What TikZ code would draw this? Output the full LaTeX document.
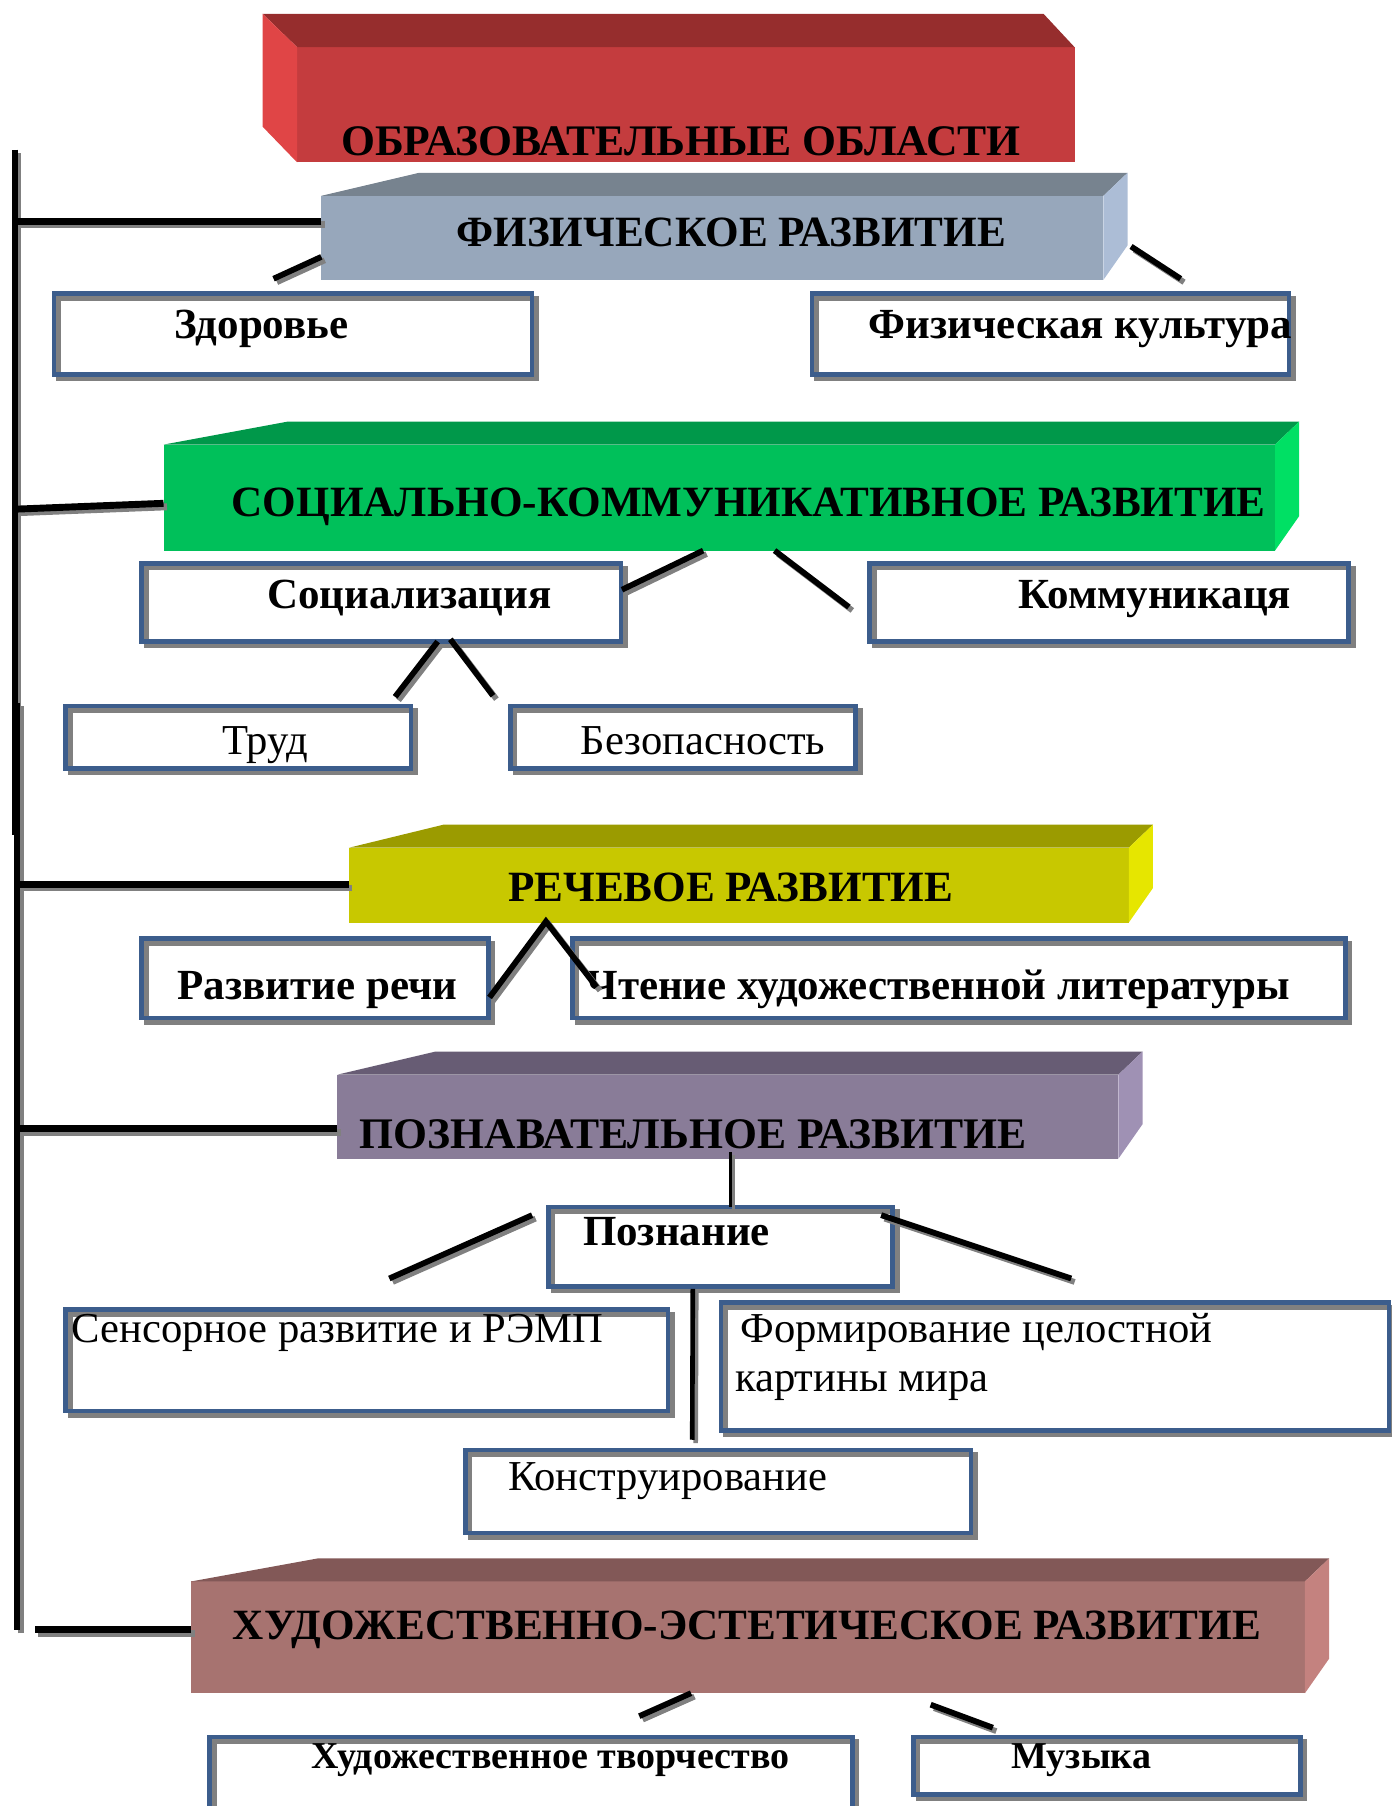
\documentclass[tikz,border=0pt]{standalone}
\usepackage{fontspec}
\setmainfont{Liberation Serif}
\usetikzlibrary{calc}

\definecolor{frameblue}{HTML}{3C5D8C}
\definecolor{shadowgray}{HTML}{808080}
\definecolor{redfront}{HTML}{C43C3E}\definecolor{redtop}{HTML}{962D2D}\definecolor{redside}{HTML}{E04546}
\definecolor{bluefront}{HTML}{97A7BB}\definecolor{bluetop}{HTML}{77838F}\definecolor{blueside}{HTML}{ACBDD6}
\definecolor{greenfront}{HTML}{00C05A}\definecolor{greentop}{HTML}{00984A}\definecolor{greenside}{HTML}{00E064}
\definecolor{yellowfront}{HTML}{C8C800}\definecolor{yellowtop}{HTML}{9B9B00}\definecolor{yellowside}{HTML}{E6E600}
\definecolor{violetfront}{HTML}{897C98}\definecolor{violettop}{HTML}{675C74}\definecolor{violetside}{HTML}{9F91B4}
\definecolor{brownfront}{HTML}{A77370}\definecolor{browntop}{HTML}{825857}\definecolor{brownside}{HTML}{C4827F}

\tikzset{
  bar/.style={line width=#1, line cap=butt,
    preaction={draw=shadowgray, line width=#1, transform canvas={shift={(3pt,-3pt)}}}},
  bar/.default=5pt,
  leaf/.style={draw=frameblue, line width=4pt, inner sep=0pt, outer sep=0pt,
    preaction={draw=shadowgray, line width=4pt, transform canvas={shift={(4pt,-4pt)}}}},
  front/.style={inner sep=0pt, outer sep=0pt},
  heading/.style={anchor=base west, inner sep=0pt, font=\bfseries\fontsize{37.5}{41}\selectfont},
  item/.style={anchor=base west, inner sep=0pt, font=\fontsize{37}{40}\selectfont},
  bolditem/.style={item, font=\bfseries\fontsize{37.3}{40}\selectfont},
  smallitem/.style={item, font=\bfseries\fontsize{33}{36}\selectfont},
}

\begin{document}
\begin{tikzpicture}[x=1pt, y=-1pt]
\useasboundingbox (0,0) rectangle (1208,1568);
\newcommand{\slab}[4]{%
    \fill[#3] (#1.north west) -- ++(#2,-20) -- ($(#1.north east)+(21,-20)$)
        -- (#1.north east) -- cycle;
    \fill[#4] (#1.north east) -- ++(21,-20) -- ($(#1.south east)+(21,-30)$)
        -- (#1.south east) -- cycle;}
% title block
\node[front, fill=redfront, minimum width=675pt, minimum height=100pt] (oblasti) at (595.5,91) {};
\fill[redtop] (oblasti.north west) -- ++(-30,-29) -- ($(oblasti.north east)+(-27,-29)$)
    -- (oblasti.north east) -- cycle;
\fill[redside] (oblasti.north west) -- ++(-30,-29) -- ($(oblasti.south west)+(-30,-31)$)
    -- (oblasti.south west) -- cycle;
\node[heading, font=\bfseries\fontsize{37.9}{41}\selectfont] at (296,135) {ОБРАЗОВАТЕЛЬНЫЕ ОБЛАСТИ};
% areas
\node[front, fill=bluefront, minimum width=679pt, minimum height=73pt] (fiz) at (618.5,206.5) {};
\slab{fiz}{85}{bluetop}{blueside}
\node[heading] at (396,214) {ФИЗИЧЕСКОЕ РАЗВИТИЕ};
\node[front, fill=greenfront, minimum width=965pt, minimum height=92pt] (soc) at (624.5,432) {};
\slab{soc}{108}{greentop}{greenside}
\node[heading] at (201,448) {СОЦИАЛЬНО-КОММУНИКАТИВНОЕ РАЗВИТИЕ};
\node[front, fill=yellowfront, minimum width=677pt, minimum height=65pt] (rech) at (641.5,768.5) {};
\slab{rech}{82}{yellowtop}{yellowside}
\node[heading] at (441,783) {РЕЧЕВОЕ РАЗВИТИЕ};
\node[front, fill=violetfront, minimum width=678pt, minimum height=73pt] (pozn) at (632,969.5) {};
\slab{pozn}{85}{violettop}{violetside}
\node[heading, font=\bfseries\fontsize{37.9}{41}\selectfont] at (312,997) {ПОЗНАВАТЕЛЬНОЕ РАЗВИТИЕ};
\node[front, fill=brownfront, minimum width=967pt, minimum height=97pt] (hud) at (649.5,1421.5) {};
\slab{hud}{110}{browntop}{brownside}
\node[heading] at (202,1423) {ХУДОЖЕСТВЕННО-ЭСТЕТИЧЕСКОЕ РАЗВИТИЕ};
% sections
\node[leaf, minimum width=415pt, minimum height=70pt] (zdor) at (254.5,290) {};
\node[bolditem] at (151,294) {Здоровье};
\node[leaf, minimum width=414pt, minimum height=70pt] (fizk) at (912,290) {};
\node[bolditem] at (754,294) {Физическая культура};
\node[leaf, minimum width=416pt, minimum height=68pt] (socz) at (331,523) {};
\node[bolditem] at (232,528) {Социализация};
\node[leaf, minimum width=416pt, minimum height=68pt] (komm) at (963,523) {};
\node[bolditem] at (884,528) {Коммуникаця};
\node[leaf, minimum width=300pt, minimum height=54pt] (trud) at (207,640) {};
\node[item] at (193,655) {Труд};
\node[leaf, minimum width=300pt, minimum height=54pt] (bez) at (593,640) {};
\node[item] at (504,655) {Безопасность};
\node[leaf, minimum width=301pt, minimum height=69pt] (razv) at (273.5,849.5) {};
\node[bolditem] at (154,868) {Развитие речи};
\node[leaf, minimum width=671pt, minimum height=69pt] (cht) at (832.5,849.5) {};
\node[bolditem] at (509,868) {Чтение художественной литературы};
\node[leaf, minimum width=299pt, minimum height=69pt] (poz) at (625.5,1082.5) {};
\node[bolditem] at (506,1081) {Познание};
\node[leaf, minimum width=523pt, minimum height=88pt] (sens) at (318.5,1181) {};
\node[item] at (62,1166) {Сенсорное развитие и РЭМП};
\node[leaf, minimum width=580pt, minimum height=111pt] (form) at (916,1186.5) {};
\node[item] at (643,1166) {Формирование целостной};
\node[item] at (638,1208) {картины мира};
\node[leaf, minimum width=439pt, minimum height=72pt] (konstr) at (623.5,1295) {};
\node[item] at (441,1294) {Конструирование};
\node[leaf, minimum width=558pt, minimum height=65pt] (hudtv) at (461,1540.5) {};
\node[smallitem] at (270,1535) {Художественное творчество};
\node[leaf, minimum width=336pt, minimum height=50pt] (muz) at (961,1533) {};
\node[smallitem] at (878,1535) {Музыка};
% trunk and branches
\coordinate (trunk top) at (13,130);
\coordinate (trunk bottom) at (15,1415);
\draw[bar] (trunk top) -- ++(0,595);
\draw[bar] (trunk bottom) -- ++(0,-805);
\draw[bar=6pt] ($(fiz.west)+(0,-14.5)$) -- ++(-264,0);
\draw[bar=6pt] ($(soc.west)+(0,5)$) -- ++(-127,5);
\draw[bar=6pt] ($(rech.west)+(0,-0.5)$) -- ++(-288,0);
\draw[bar=6pt] ($(pozn.west)+(0,10.5)$) -- ++(-278,0);
\draw[bar=6pt] ($(hud.west)+(0,-6.5)$) -- ++(-136,0);
% links
\draw[bar] ($(fiz.south west)+(0,-20)$) -- ($(zdor.north)+(-17,-13)$);
\draw[bar] ($(fiz.south east)+(24,-29)$) -- ($(fizk.north)+(113,-13)$);
\draw[bar] ($(soc.south)+(-14,0)$) -- ($(socz.east)+(1,-11)$);
\draw[bar] ($(soc.south)+(48,0)$) -- ($(komm.west)+(-18,4)$);
\draw[bar] ($(socz.south)+(49,0)$) -- ($(trud.north east)+(-14,-8)$);
\draw[bar] ($(socz.south)+(60,-2)$) -- ($(bez.north west)+(-15,-9)$);
\draw[bar] ($(razv.east)+(1,16.5)$) -- ($(rech.south west)+(171,-1)$)
    -- ($(cht.west)+(21,7.5)$);
\draw[bar=3pt] ($(pozn.south)+(2,-6)$) -- ($(pozn.south |- poz.north)+(2,0)$);
\draw[bar] ($(poz.west)+(-14,-27.5)$) -- ($(sens.north)+(19.5,-27)$);
\draw[bar] ($(poz.east)+(-10,-27.5)$) -- ($(form.north)+(14,-21)$);
\draw[bar=4pt] ($(poz.south)+(-24,2)$) -- ($(konstr.north)+(-22.5,-9)$);
\draw[bar] ($(hud.south)+(-49.5,0)$) -- ($(hudtv.north)+(94,-18)$);
\draw[bar] ($(hud.south)+(158.5,10)$) -- ($(muz.north)+(-99,-8)$);
\end{tikzpicture}
\end{document}
